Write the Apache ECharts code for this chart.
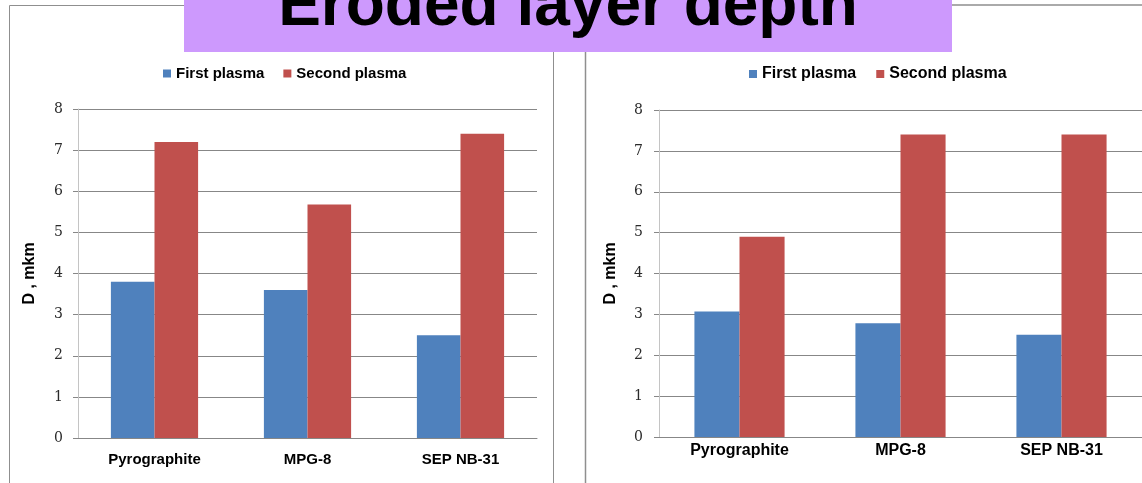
<!DOCTYPE html>
<html>
<head>
<meta charset="utf-8">
<title>Eroded layer depth</title>
<script src="https://cdn.jsdelivr.net/npm/echarts@6/dist/echarts.min.js"></script>
<style>
  html, body { margin: 0; padding: 0; background: #ffffff; }
  #chart { width: 1142px; height: 483px; }
</style>
</head>
<body>
<div id="chart"></div>
<script>
// Materials tested in both plasma runs
const categories = ['Pyrographite', 'MPG-8', 'SEP NB-31'];

// Eroded layer depth D, mkm — left panel
const leftFirstPlasma = [3.8, 3.6, 2.5];
const leftSecondPlasma = [7.2, 5.68, 7.4];

// Eroded layer depth D, mkm — right panel
const rightFirstPlasma = [3.07, 2.78, 2.5];
const rightSecondPlasma = [4.9, 7.4, 7.4];

const seriesNames = ['First plasma', 'Second plasma'];
const titleText = 'Eroded layer depth';
const yAxisName = 'D , mkm';

const BLUE = '#4f81bd';
const RED = '#c0504d';
const GRID_LINE = '#878787';

function makeYAxis(gridIndex, fontSize, margin) {
  return {
    type: 'value',
    gridIndex: gridIndex,
    min: 0,
    max: 8,
    interval: 1,
    name: yAxisName,
    nameLocation: 'middle',
    nameGap: 40,
    nameRotate: 90,
    nameTextStyle: { fontFamily: 'Liberation Sans, Arial', fontWeight: 'bold', fontSize: 16, color: '#000' },
    axisLine: { show: true, lineStyle: { color: '#c4c4c4', width: 1 } },
    axisTick: { show: true, length: 5, lineStyle: { color: GRID_LINE } },
    axisLabel: { fontFamily: 'DejaVu Serif', fontSize: fontSize, color: '#2a2a2a', margin: margin },
    splitLine: { show: true, lineStyle: { color: GRID_LINE, width: 1 } }
  };
}

function makeXAxis(gridIndex, fontSize, margin) {
  return {
    type: 'category',
    gridIndex: gridIndex,
    data: categories,
    axisLine: { show: true, lineStyle: { color: GRID_LINE, width: 1 } },
    axisTick: { show: false },
    axisLabel: { fontFamily: 'Liberation Sans, Arial', fontWeight: 'bold', fontSize: fontSize, color: '#000', margin: margin }
  };
}

function makeBar(name, data, idx, color, gap) {
  return {
    name: name,
    type: 'bar',
    xAxisIndex: idx,
    yAxisIndex: idx,
    data: data,
    barGap: '0%',
    barCategoryGap: gap,
    itemStyle: { color: color },
    emphasis: { disabled: true }
  };
}

const chart = echarts.init(document.getElementById('chart'), null, { renderer: 'canvas' });

chart.setOption({
  animation: false,
  backgroundColor: '#ffffff',
  legend: [
    {
      data: seriesNames,
      left: 163,
      top: 66,
      padding: 0,
      icon: 'rect',
      itemWidth: 8,
      itemHeight: 8,
      itemGap: 19,
      selectedMode: false,
      textStyle: { fontFamily: 'Liberation Sans, Arial', fontWeight: 'bold', fontSize: 15, color: '#000' }
    },
    {
      data: seriesNames,
      left: 749,
      top: 66,
      padding: 0,
      icon: 'rect',
      itemWidth: 8,
      itemHeight: 8,
      itemGap: 20,
      selectedMode: false,
      textStyle: { fontFamily: 'Liberation Sans, Arial', fontWeight: 'bold', fontSize: 16, color: '#000' }
    }
  ],
  grid: [
    { left: 78, top: 109, width: 459, height: 329 },
    { left: 659, top: 110, width: 486, height: 327 }
  ],
  xAxis: [makeXAxis(0, 15, 14), makeXAxis(1, 16, 6)],
  yAxis: [makeYAxis(0, 14, 15), makeYAxis(1, 14, 16)],
  series: [
    makeBar(seriesNames[0], leftFirstPlasma, 0, BLUE, '43%'),
    makeBar(seriesNames[1], leftSecondPlasma, 0, RED, '43%'),
    makeBar(seriesNames[0], rightFirstPlasma, 1, BLUE, '44%'),
    makeBar(seriesNames[1], rightSecondPlasma, 1, RED, '44%')
  ],
  graphic: [
    // panel frames
    { type: 'rect', shape: { x: 9.5, y: 5.5, width: 544, height: 490 }, style: { fill: null, stroke: '#8f8f8f', lineWidth: 1 }, z: 0, silent: true },
    { type: 'rect', shape: { x: 585.5, y: 5, width: 600, height: 490 }, style: { fill: null, stroke: '#8f8f8f', lineWidth: 1.5 }, z: 0, silent: true },
    // title banner
    { type: 'rect', shape: { x: 184, y: 0, width: 768, height: 52 }, style: { fill: '#cd99fd' }, z: 10, silent: true },
    {
      type: 'text',
      x: 568,
      y: 7,
      style: {
        text: titleText,
        font: 'bold 64px "Liberation Sans", Arial',
        fill: '#000',
        align: 'center',
        verticalAlign: 'middle'
      },
      z: 11,
      silent: true
    }
  ]
});
</script>
</body>
</html>
